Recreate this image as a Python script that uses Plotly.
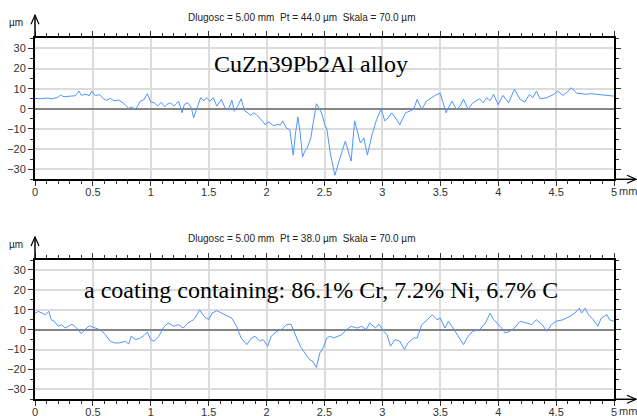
import plotly.graph_objects as go

# ---------------- data ----------------
top_x = [0.00, 0.05, 0.10, 0.15, 0.20, 0.22, 0.25, 0.30, 0.35, 0.38, 0.40, 0.44, 0.47, 0.49, 0.52, 0.56,
         0.59, 0.62, 0.65, 0.68, 0.72, 0.76, 0.79, 0.81, 0.84, 0.86, 0.88, 0.91, 0.94, 0.97, 1.00, 1.03,
         1.06, 1.09, 1.12, 1.14, 1.17, 1.20, 1.22, 1.24, 1.27, 1.29, 1.32, 1.35, 1.37, 1.40, 1.43, 1.46,
         1.48, 1.51, 1.54, 1.57, 1.61, 1.64, 1.67, 1.70, 1.72, 1.75, 1.78, 1.81, 1.84, 1.86, 1.89, 1.91,
         1.94, 1.97, 1.99, 2.01, 2.03, 2.06, 2.09, 2.12, 2.14, 2.17, 2.20, 2.23, 2.25, 2.27, 2.29, 2.31,
         2.33, 2.35, 2.38, 2.40, 2.43, 2.46, 2.48, 2.50, 2.52, 2.55, 2.57, 2.59, 2.62, 2.65, 2.68, 2.70,
         2.73, 2.76, 2.78, 2.81, 2.84, 2.87, 2.91, 2.95, 2.99, 3.02, 3.05, 3.08, 3.12, 3.15, 3.20, 3.23,
         3.27, 3.30, 3.34, 3.38, 3.43, 3.47, 3.50, 3.53, 3.55, 3.60, 3.64, 3.67, 3.70, 3.74, 3.78, 3.84,
         3.87, 3.90, 3.93, 3.96, 4.00, 4.04, 4.09, 4.14, 4.19, 4.23, 4.27, 4.30, 4.33, 4.36, 4.42, 4.48,
         4.51, 4.56, 4.60, 4.63, 4.68, 4.72, 4.76, 4.80, 4.85, 4.90, 4.94, 5.00]
top_y = [5.2, 5.0, 5.3, 5.0, 5.8, 6.8, 6.0, 6.3, 6.5, 8.8, 6.7, 7.2, 6.5, 8.8, 6.6, 7.0,
         5.0, 4.2, 5.2, 4.0, 4.3, 3.0, 1.5, 0.2, 1.0, -0.3, 0.8, 3.8, 4.5, 7.5, 3.3, 3.0,
         1.5, 3.2, 1.0, 2.2, 3.0, 1.3, 2.5, 3.8, -2.0, 2.2, 3.0, 0.5, -4.5, 0.5, 5.5, 4.0,
         5.5, 3.8, 5.5, 1.3, 4.7, 0.5, -0.3, 4.3, -1.2, 1.3, 5.0, -1.0, -2.0, -3.3, -2.0, -2.8,
         -4.5, -6.5, -8.0, -6.5, -7.0, -8.5, -7.8, -8.0, -6.0, -9.5, -10.3, -23.0, -12.0, -4.0, -12.0, -24.0,
         -21.0, -19.5, -15.0, -7.0, 2.5, -0.3, -3.0, -7.5, -10.0, -22.0, -28.0, -33.0, -27.0, -21.0, -16.0, -20.0,
         -26.0, -6.0, -10.0, -17.0, -14.5, -23.0, -13.0, -5.3, 0.0, -6.0, -4.5, -2.0, -5.0, -8.0, -2.0, -1.2,
         -0.3, 4.7, -0.3, 3.8, 5.5, 7.2, 7.7, 2.0, -2.0, 3.8, -0.3, 1.3, 4.7, -0.3, 3.0, 5.0,
         3.0, 5.5, 4.0, 7.2, 2.0, 6.7, 3.0, 9.7, 4.7, 3.3, 7.2, 5.5, 8.8, 5.0, 5.5, 7.2,
         8.8, 6.7, 8.5, 10.5, 7.7, 7.5, 7.2, 7.5, 7.2, 7.2, 7.0, 6.3]

bot_x = [0.00, 0.03, 0.06, 0.09, 0.12, 0.14, 0.17, 0.20, 0.23, 0.26, 0.29, 0.32, 0.36, 0.40, 0.43, 0.47,
         0.52, 0.56, 0.60, 0.65, 0.69, 0.73, 0.78, 0.81, 0.83, 0.87, 0.91, 0.94, 0.97, 1.00, 1.03, 1.07,
         1.11, 1.15, 1.20, 1.24, 1.28, 1.32, 1.37, 1.40, 1.42, 1.46, 1.50, 1.53, 1.57, 1.61, 1.66, 1.70,
         1.74, 1.78, 1.83, 1.87, 1.90, 1.94, 1.97, 2.01, 2.04, 2.09, 2.13, 2.17, 2.21, 2.25, 2.29, 2.33,
         2.37, 2.40, 2.43, 2.46, 2.49, 2.52, 2.55, 2.58, 2.62, 2.65, 2.69, 2.73, 2.78, 2.82, 2.86, 2.89,
         2.94, 2.97, 3.01, 3.04, 3.07, 3.11, 3.15, 3.19, 3.22, 3.27, 3.30, 3.34, 3.38, 3.43, 3.47, 3.50,
         3.54, 3.57, 3.61, 3.66, 3.70, 3.74, 3.78, 3.84, 3.89, 3.93, 3.96, 3.99, 4.03, 4.06, 4.10, 4.14,
         4.19, 4.25, 4.29, 4.33, 4.38, 4.42, 4.46, 4.50, 4.56, 4.62, 4.66, 4.70, 4.72, 4.75, 4.78, 4.82,
         4.86, 4.89, 4.94, 4.96, 5.00]
bot_y = [8.3, 9.2, 8.3, 7.5, 9.2, 5.0, 4.0, 1.7, 2.5, 0.8, 1.7, 2.8, 0.8, -2.0, 0.0, 2.0,
         0.8, 0.0, -2.0, -5.8, -6.7, -6.7, -5.8, -7.2, -3.3, -5.0, -4.2, -3.0, -1.2, -5.0, -5.8, -3.3,
         1.2, 3.3, 1.7, 2.5, 0.8, 3.3, 5.0, 7.5, 10.0, 6.7, 5.0, 8.3, 9.5, 8.3, 6.7, 5.8,
         1.7, -4.2, -7.5, -4.2, -3.3, -5.8, -5.0, -8.3, -3.3, -0.8, 0.0, 2.5, 2.8, -2.5, -8.3, -11.7,
         -15.0, -16.0, -19.0, -11.7, -9.0, -4.2, -3.3, -4.2, -3.3, -2.5, 0.0, 1.7, 0.8, 1.7, 0.0, 3.3,
         0.8, 2.8, -0.8, -2.5, -8.3, -5.0, -5.8, -10.0, -6.7, -4.2, -4.2, 2.5, 4.5, 7.5, 5.0, 5.8,
         0.8, 4.2, 0.8, -4.2, -7.5, -3.3, -0.8, 0.0, 3.3, 8.3, 5.0, 3.3, 0.8, -1.7, -0.8, 0.8,
         4.2, 3.3, 2.5, 5.0, 2.5, -0.8, 2.5, 4.2, 5.0, 6.7, 8.3, 10.8, 8.3, 10.8, 7.5, 5.0,
         1.7, 5.8, 7.5, 5.0, 4.2]

x_ticks = [0, 0.5, 1, 1.5, 2, 2.5, 3, 3.5, 4, 4.5, 5]
x_ticklabels = ["0", "0.5", "1", "1.5", "2", "2.5", "3", "3.5", "4", "4.5", "5"]
y_ticks = [-30, -20, -10, 0, 10, 20, 30]

header_top = "Dlugosc = 5.00 mm  Pt = 44.0 µm  Skala = 70.0 µm"
header_bot = "Dlugosc = 5.00 mm  Pt = 38.0 µm  Skala = 70.0 µm"
title_top = "CuZn39Pb2Al alloy"
title_bot = "a coating containing: 86.1% Cr, 7.2% Ni, 6.7% C"

# ---------------- layout geometry ----------------
W, H = 637, 416
def px(x): return x / W
def py(y): return 1 - y / H

x0, x1 = 35, 614
top_t, top_b = 38.3, 179.3
bot_t, bot_b = 260, 399.3

fig = go.Figure()
line_style = dict(color="#4f95ff", width=1)
fig.add_trace(go.Scatter(x=top_x, y=top_y, mode="lines", line=line_style, xaxis="x", yaxis="y",
                         showlegend=False, hoverinfo="skip"))
fig.add_trace(go.Scatter(x=bot_x, y=bot_y, mode="lines", line=line_style, xaxis="x2", yaxis="y2",
                         showlegend=False, hoverinfo="skip"))

tickfont = dict(family="Liberation Sans, Arial", size=11, color="#333333")
xa = dict(range=[0, 5], tickvals=x_ticks, ticktext=x_ticklabels, ticks="outside", ticklen=5,
          tickcolor="#333", showline=True, linecolor="black", linewidth=2, mirror="ticks",
          showgrid=True, gridcolor="#dcdcdc", gridwidth=1.5, zeroline=False, tickfont=tickfont,
          ticklabelstandoff=-4,
          minor=dict(dtick=0.1, ticks="outside", ticklen=3, tickcolor="#333", showgrid=False),
          automargin=False, fixedrange=True)
ya = dict(range=[-35, 35], tickvals=y_ticks, ticks="outside", ticklen=5, tickcolor="#333",
          showline=True, linecolor="black", linewidth=2, mirror="ticks",
          showgrid=True, gridcolor="#dcdcdc", gridwidth=1.5, zeroline=True,
          zerolinecolor="#858585", zerolinewidth=2, tickfont=tickfont,
          minor=dict(dtick=5, ticks="outside", ticklen=3, tickcolor="#333", showgrid=False),
          automargin=False, fixedrange=True)

fig.update_layout(
    width=W, height=H, margin=dict(l=0, r=0, t=0, b=0, autoexpand=False),
    paper_bgcolor="white", plot_bgcolor="white",
    xaxis=dict(xa, domain=[px(x0), px(x1)], anchor="y"),
    yaxis=dict(ya, domain=[py(top_b), py(top_t)], anchor="x"),
    xaxis2=dict(xa, domain=[px(x0), px(x1)], anchor="y2"),
    yaxis2=dict(ya, domain=[py(bot_b), py(bot_t)], anchor="x2"),
)

ann = []
shapes = []
small = dict(family="Liberation Sans, Arial", size=10, color="#222")
for (t, b, hdr, ttl, tx, ty) in [(top_t, top_b, header_top, title_top, 311, 64),
                                  (bot_t, bot_b, header_bot, title_bot, 321, 290)]:
    ann.append(dict(x=px(301), y=py(t - 21), xref="paper", yref="paper", text=hdr, showarrow=False,
                    font=small, xanchor="center", yanchor="middle"))
    ann.append(dict(x=px(16), y=py(t - 16), xref="paper", yref="paper", text="µm", showarrow=False,
                    font=small, xanchor="center", yanchor="middle"))
    ann.append(dict(x=px(tx), y=py(ty), xref="paper", yref="paper", text=ttl, showarrow=False,
                    font=dict(family="Liberation Serif, Times New Roman", size=24, color="black"),
                    xanchor="center", yanchor="middle"))
    ann.append(dict(x=px(628), y=py(b + 12), xref="paper", yref="paper", text="mm", showarrow=False,
                    font=tickfont, xanchor="center", yanchor="middle"))
    # y-axis arrow
    shapes.append(dict(type="line", xref="paper", yref="paper", x0=px(x0), x1=px(x0),
                       y0=py(t), y1=py(t - 23), line=dict(color="black", width=1.5)))
    shapes.append(dict(type="path", xref="paper", yref="paper",
                       path=f"M {px(x0-4)},{py(t-14)} L {px(x0)},{py(t-23)} L {px(x0+4)},{py(t-14)}",
                       line=dict(color="black", width=1.2)))
    # x-axis arrow
    shapes.append(dict(type="line", xref="paper", yref="paper", x0=px(x1), x1=px(636),
                       y0=py(b), y1=py(b), line=dict(color="black", width=1.5)))
    shapes.append(dict(type="path", xref="paper", yref="paper",
                       path=f"M {px(627)},{py(b-4)} L {px(636)},{py(b)} L {px(627)},{py(b+4)}",
                       line=dict(color="black", width=1.2)))

fig.update_layout(annotations=ann, shapes=shapes)
fig.write_html("out.html", config={"displayModeBar": False},
               post_script="document.body.style.margin='0';document.body.style.overflow='hidden';")
